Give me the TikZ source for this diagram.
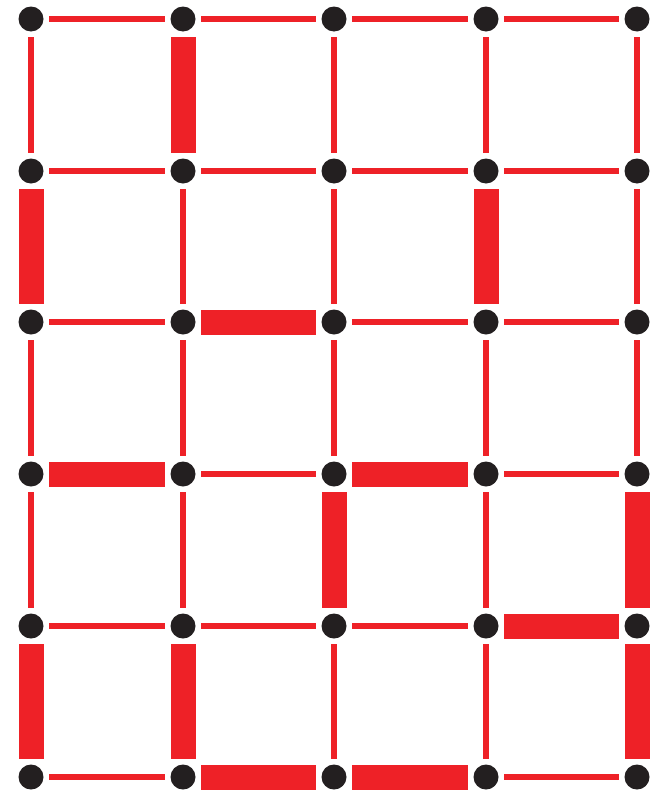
\documentclass[tikz,border=0pt]{standalone}
\definecolor{edgered}{HTML}{EE2127}
\definecolor{dotblack}{HTML}{231F20}
\tikzset{
  dot/.style={circle,fill=dotblack,draw=none,minimum size=25pt,inner sep=0pt},
  thinedge/.style={draw=edgered,line width=5.5pt,shorten <=5.5pt,shorten >=5.5pt},
  thickedge/.style={draw=edgered,line width=25pt,shorten <=5.5pt,shorten >=5.5pt}
}
\begin{document}
\begin{tikzpicture}[x=1pt,y=-1pt]
\useasboundingbox (0,0) rectangle (650,790);
\foreach \c/\x in {0/31,1/183,2/334,3/486,4/637}{
  \foreach \r/\y in {0/19,1/171,2/322,3/474,4/626,5/777}{
    \node[dot] (d-\r-\c) at (\x,\y) {};
  }
}
% horizontal edges: row r, from col c to c+1
\foreach \r/\c/\s in {
 0/0/thinedge,0/1/thinedge,0/2/thinedge,0/3/thinedge,
 1/0/thinedge,1/1/thinedge,1/2/thinedge,1/3/thinedge,
 2/0/thinedge,2/1/thickedge,2/2/thinedge,2/3/thinedge,
 3/0/thickedge,3/1/thinedge,3/2/thickedge,3/3/thinedge,
 4/0/thinedge,4/1/thinedge,4/2/thinedge,4/3/thickedge,
 5/0/thinedge,5/1/thickedge,5/2/thickedge,5/3/thinedge}{
  \pgfmathtruncatemacro{\n}{\c+1}
  \draw[\s] (d-\r-\c) -- (d-\r-\n);
}
% vertical edges: col c, from row r to r+1
\foreach \c/\r/\s in {
 0/0/thinedge,1/0/thickedge,2/0/thinedge,3/0/thinedge,4/0/thinedge,
 0/1/thickedge,1/1/thinedge,2/1/thinedge,3/1/thickedge,4/1/thinedge,
 0/2/thinedge,1/2/thinedge,2/2/thinedge,3/2/thinedge,4/2/thinedge,
 0/3/thinedge,1/3/thinedge,2/3/thickedge,3/3/thinedge,4/3/thickedge,
 0/4/thickedge,1/4/thickedge,2/4/thinedge,3/4/thinedge,4/4/thickedge}{
  \pgfmathtruncatemacro{\n}{\r+1}
  \draw[\s] (d-\r-\c) -- (d-\n-\c);
}
\end{tikzpicture}
\end{document}
